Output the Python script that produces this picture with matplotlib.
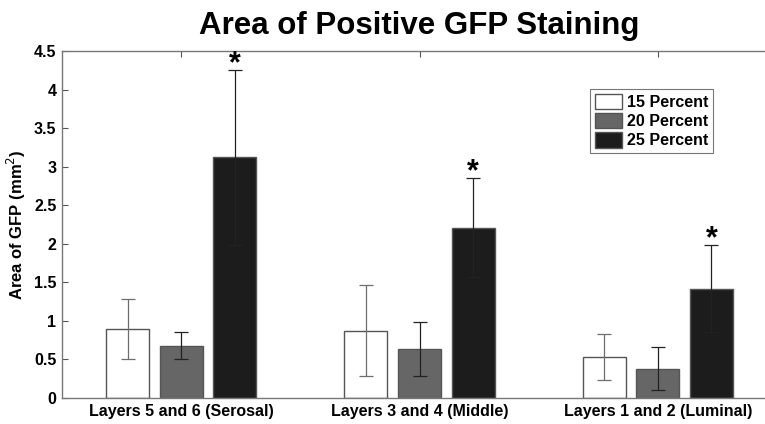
import numpy as np
import matplotlib.pyplot as plt

plt.rcParams['font.family'] = ['Liberation Sans', 'DejaVu Sans']

# Datos
capas = ['Layers 5 and 6 (Serosal)', 'Layers 3 and 4 (Middle)', 'Layers 1 and 2 (Luminal)']
series = ['15 Percent', '20 Percent', '25 Percent']
area_15 = [0.90, 0.87, 0.53]
area_20 = [0.68, 0.64, 0.38]
area_25 = [3.12, 2.21, 1.42]
err_15 = [0.39, 0.59, 0.30]
err_20 = [0.18, 0.35, 0.28]
err_25 = [1.13, 0.64, 0.56]

valores = [area_15, area_20, area_25]
errores = [err_15, err_20, err_25]
colores = ['white', '#666666', '#1c1c1c']
col_err = ['#6e6e6e', '#222222', '#222222']

fig = plt.figure(figsize=(7.65, 4.24), dpi=100)
ax = fig.add_axes([62 / 765, 26 / 424, 715 / 765, 347 / 424])

x = np.arange(1, len(capas) + 1)
ancho = 0.18
desplaz = [-0.225, 0.0, 0.225]

for i in range(3):
    ax.bar(x + desplaz[i], valores[i], ancho, color=colores[i], edgecolor='#555555',
           linewidth=1.0, label=series[i], zorder=2)
    ax.errorbar(x + desplaz[i], valores[i], yerr=errores[i], fmt='none',
                ecolor=col_err[i], elinewidth=0.9, capsize=5, capthick=0.9, zorder=3)

# Asteriscos de significancia sobre las barras de 25%
for xi, v, e in zip(x + desplaz[2], area_25, err_25):
    ax.text(xi, v + e - 0.12, '*', ha='center', va='bottom', fontsize=22,
            fontweight='bold')

ax.set_xlim(0.5, 3.5)
ax.set_ylim(0, 4.5)
ax.set_yticks(np.arange(0, 4.51, 0.5))
ax.set_yticklabels(['0', '0.5', '1', '1.5', '2', '2.5', '3', '3.5', '4', '4.5'])
ax.set_xticks(x)
ax.set_xticklabels(capas)
ax.tick_params(axis='both', direction='in', labelsize=11.5, top=True, right=True,
               length=4, color='#555555', pad=4)
for lab in ax.get_xticklabels() + ax.get_yticklabels():
    lab.set_fontweight('bold')
for s in ax.spines.values():
    s.set_color('#777777')
    s.set_linewidth(1.0)

ax.set_ylabel('Area of GFP (mm$^2$)', fontsize=12, fontweight='bold', labelpad=4)
ax.set_title('Area of Positive GFP Staining', fontsize=22.5, fontweight='bold', pad=12)

leg = ax.legend(loc='upper right', fancybox=False, edgecolor='#555555',
                prop={'weight': 'bold', 'size': 11.5}, handlelength=1.7,
                handleheight=1.1, handletextpad=0.3, borderpad=0.3,
                labelspacing=0.2, borderaxespad=0,
                bbox_to_anchor=(713 / 765, 1 - 89 / 424),
                bbox_transform=fig.transFigure)
leg.get_frame().set_linewidth(0.8)

fig.savefig('out.png', dpi=100)
